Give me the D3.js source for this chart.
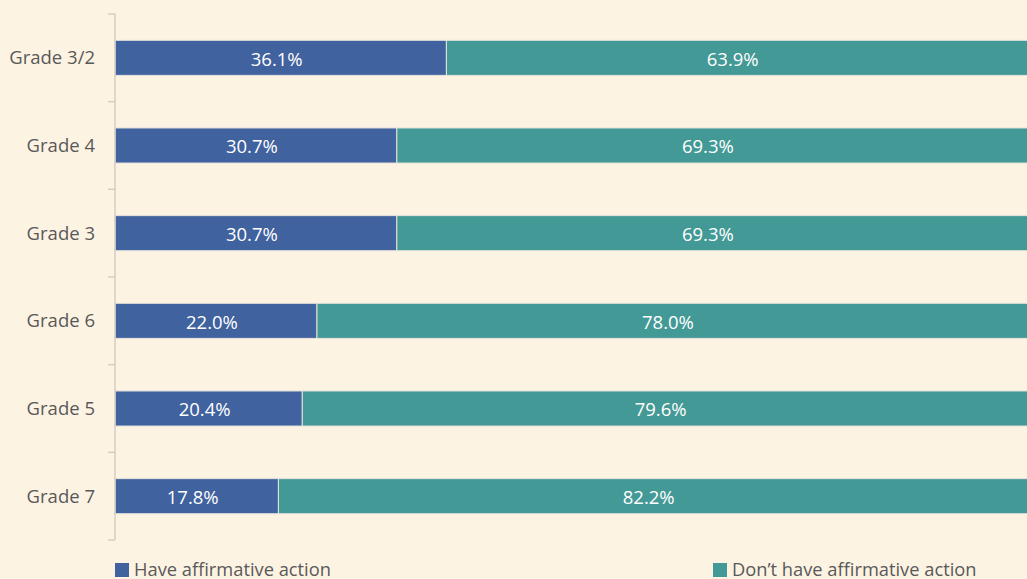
<!DOCTYPE html>
<html>
<head>
<meta charset="utf-8">
<script src="https://cdnjs.cloudflare.com/ajax/libs/d3/7.8.5/d3.min.js"></script>
<style>
  html, body { margin: 0; padding: 0; background: #fdf3e3; }
  svg { display: block; font-family: "Open Sans", Lato, sans-serif; }
</style>
</head>
<body>
<svg id="chart" width="1027" height="579"></svg>
<script>
var grades = ["Grade 3/2", "Grade 4", "Grade 3", "Grade 6", "Grade 5", "Grade 7"];
var have = [36.1, 30.7, 30.7, 22.0, 20.4, 17.8];
var dontHave = [63.9, 69.3, 69.3, 78.0, 79.6, 82.2];
var seriesNames = ["Have affirmative action", "Don\u2019t have affirmative action"];
var colors = ["#40629e", "#429995"];

var svg = d3.select("#chart");
var left = 115, top_ = 14, bottom = 540, plotW = 918;

var y = d3.scaleBand().domain(grades).range([top_, bottom]).paddingInner(0.6).paddingOuter(0.3);
var x = d3.scaleLinear().domain([0, 100]).range([left, left + plotW]);

var rows = grades.map(function(g, i) {
  return {grade: g, have: have[i], dont: dontHave[i]};
});
var stack = d3.stack().keys(["have", "dont"]);
var layers = stack(rows);

var g = svg.append("g");
layers.forEach(function(layer, li) {
  g.selectAll(".bar" + li).data(layer).enter().append("rect")
    .attr("x", function(d) { return x(d[0]); })
    .attr("y", function(d) { return y(d.data.grade); })
    .attr("width", function(d) { return x(d[1]) - x(d[0]); })
    .attr("height", y.bandwidth())
    .attr("fill", colors[li])
    .attr("stroke", "#e8e4dc")
    .attr("stroke-width", 1);
  g.selectAll(".lab" + li).data(layer).enter().append("text")
    .attr("x", function(d) { return (x(d[0]) + Math.min(x(d[1]), 1027)) / 2 - 4; })
    .attr("y", function(d) { return y(d.data.grade) + y.bandwidth() / 2 + 1.5; })
    .attr("dy", "0.35em")
    .attr("text-anchor", "middle")
    .attr("fill", "#ffffff")
    .style("font-size", "18.5px")
    .text(function(d) { return (d[1] - d[0]).toFixed(1) + "%"; });
});

// axis: category boundaries as ticks
var step = (bottom - top_) / grades.length;
var axis = svg.append("g");
axis.append("line").attr("x1", left).attr("x2", left).attr("y1", top_).attr("y2", bottom)
  .attr("stroke", "#d6cdc2").attr("stroke-width", 1.5);
d3.range(grades.length + 1).forEach(function(i) {
  axis.append("line").attr("x1", left - 7).attr("x2", left)
    .attr("y1", top_ + i * step).attr("y2", top_ + i * step)
    .attr("stroke", "#d6cdc2").attr("stroke-width", 1.5);
});
axis.selectAll(".glab").data(grades).enter().append("text")
  .attr("x", 95)
  .attr("y", function(d) { return y(d) + y.bandwidth() / 2; })
  .attr("dy", "0.35em")
  .attr("text-anchor", "end")
  .attr("fill", "#595959")
  .style("font-size", "18.5px")
  .text(function(d) { return d; });

// legend
var legX = [115, 713];
seriesNames.forEach(function(name, i) {
  svg.append("rect").attr("x", legX[i]).attr("y", 563).attr("width", 14).attr("height", 14).attr("fill", colors[i]);
  svg.append("text").attr("x", legX[i] + 19).attr("y", 576)
    .attr("fill", "#595959").style("font-size", "18.3px").text(name);
});
</script>
</body>
</html>
